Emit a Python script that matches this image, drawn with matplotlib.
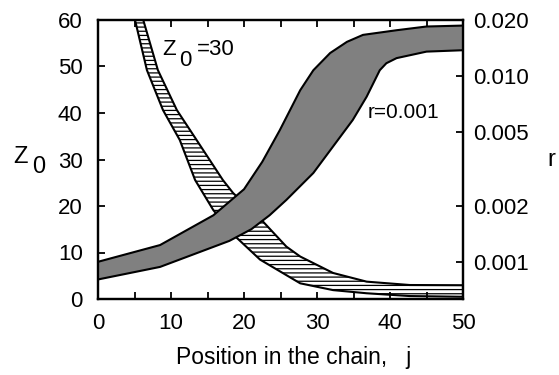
import numpy as np
import matplotlib
matplotlib.use('Agg')
import matplotlib.pyplot as plt

plt.rcParams['font.family'] = ['Liberation Sans', 'DejaVu Sans']
plt.rcParams['hatch.linewidth'] = 0.9

# banda gris: Z0 vs j (eje izquierdo), r = 0.001
j_sup = [0, 8.5, 15.8, 20, 22.5, 24.9, 27.7, 29.5, 31.8, 34.1, 36.3, 40.9, 45, 50]
z_sup = [8.0, 11.6, 18, 23.6, 29.5, 36.3, 44.9, 49.2, 52.9, 55.3, 56.8, 57.8, 58.6, 58.8]
j_inf = [0, 8.5, 18, 21, 23.5, 25.8, 29.5, 32.2, 34.9, 36.8, 38.6, 39.5, 40.9, 45, 50]
z_inf = [4.2, 6.9, 12.5, 15.0, 18.0, 21.3, 27.1, 32.8, 38.5, 43.5, 49.2, 50.7, 51.8, 53.2, 53.5]

# banda rayada: r vs j (eje derecho, log), Z0 = 30
j_r_sup = [5.4, 6.2, 8.2, 10.8, 13.5, 17.1, 18.5, 22.6, 25.8, 27.7, 32.2, 36.8, 42.7, 50]
r_sup = [0.025, 0.0200, 0.01076, 0.00656, 0.00453, 0.00276, 0.00235, 0.00165,
         0.00121, 0.00107, 0.000873, 0.000784, 0.000752, 0.000750]
j_r_inf = [4.4, 5.07, 6.7, 8.9, 11.2, 13.3, 15.8, 19, 22.2, 27.7, 32.2, 36.8, 42.7, 50]
r_inf = [0.025, 0.0200, 0.01076, 0.00656, 0.00453, 0.00276, 0.00190, 0.00135,
         0.00103, 0.000768, 0.000706, 0.000679, 0.000656, 0.000650]

r_ticks = [0.001, 0.002, 0.005, 0.010, 0.020]
r_labels = ['0.001', '0.002', '0.005', '0.010', '0.020']

fig = plt.figure(figsize=(5.59, 3.75), dpi=100)
ax = fig.add_axes([98/559, 1-299/375, (463-98)/559, (299-20)/375])
ax2 = ax.twinx()

# gris encima del rayado
ax.set_zorder(ax2.get_zorder() + 1)
ax.patch.set_visible(False)

ax.fill(np.r_[j_sup, j_inf[::-1]], np.r_[z_sup, z_inf[::-1]],
        facecolor='#808080', edgecolor='black', linewidth=1.5)

ax2.fill(np.r_[j_r_sup, j_r_inf[::-1]], np.r_[r_sup, r_inf[::-1]],
         facecolor='white', edgecolor='black', linewidth=1.5, hatch='----')

ax.set_xlim(0, 50)
ax.set_ylim(0, 60)
ax2.set_yscale('log')
ax2.set_ylim(0.02/10**1.5, 0.02)
ax2.set_yticks(r_ticks)
ax2.set_yticklabels(r_labels)
ax2.yaxis.set_minor_locator(matplotlib.ticker.NullLocator())

ax.xaxis.set_major_locator(matplotlib.ticker.MultipleLocator(10))
ax.xaxis.set_minor_locator(matplotlib.ticker.MultipleLocator(5))
ax.yaxis.set_major_locator(matplotlib.ticker.MultipleLocator(10))

ax.tick_params(axis='x', which='both', direction='in', top=True, length=5, width=1.3,
               labelsize=16, pad=10)
ax.tick_params(axis='y', which='both', direction='in', length=5, width=1.3,
               labelsize=16, pad=11)
ax2.tick_params(axis='y', direction='in', length=5, width=1.3, labelsize=16, pad=7)

for a in (ax, ax2):
    for s in a.spines.values():
        s.set_linewidth(1.6)

ax.set_xlabel('Position in the chain,   j', fontsize=16.5)
ax.xaxis.set_label_coords(0.535, -0.17)

# etiquetas de ejes
fig.text(13/559, 1-163/375, 'Z', fontsize=17, va='baseline')
fig.text(32/559, 1-173/375, '0', fontsize=17, va='baseline')
fig.text(547/559, 1-166/375, 'r', fontsize=17, va='baseline')

# etiquetas de curvas
ax.text(8.8, 52.4, 'Z', fontsize=16, va='baseline')
ax.text(11.1, 50.0, '0', fontsize=16, va='baseline')
ax.text(13.6, 52.4, '=30', fontsize=16, va='baseline')
ax.text(37.0, 39.0, 'r=0.001', fontsize=15, va='baseline')

fig.savefig('out.png', dpi=100)
